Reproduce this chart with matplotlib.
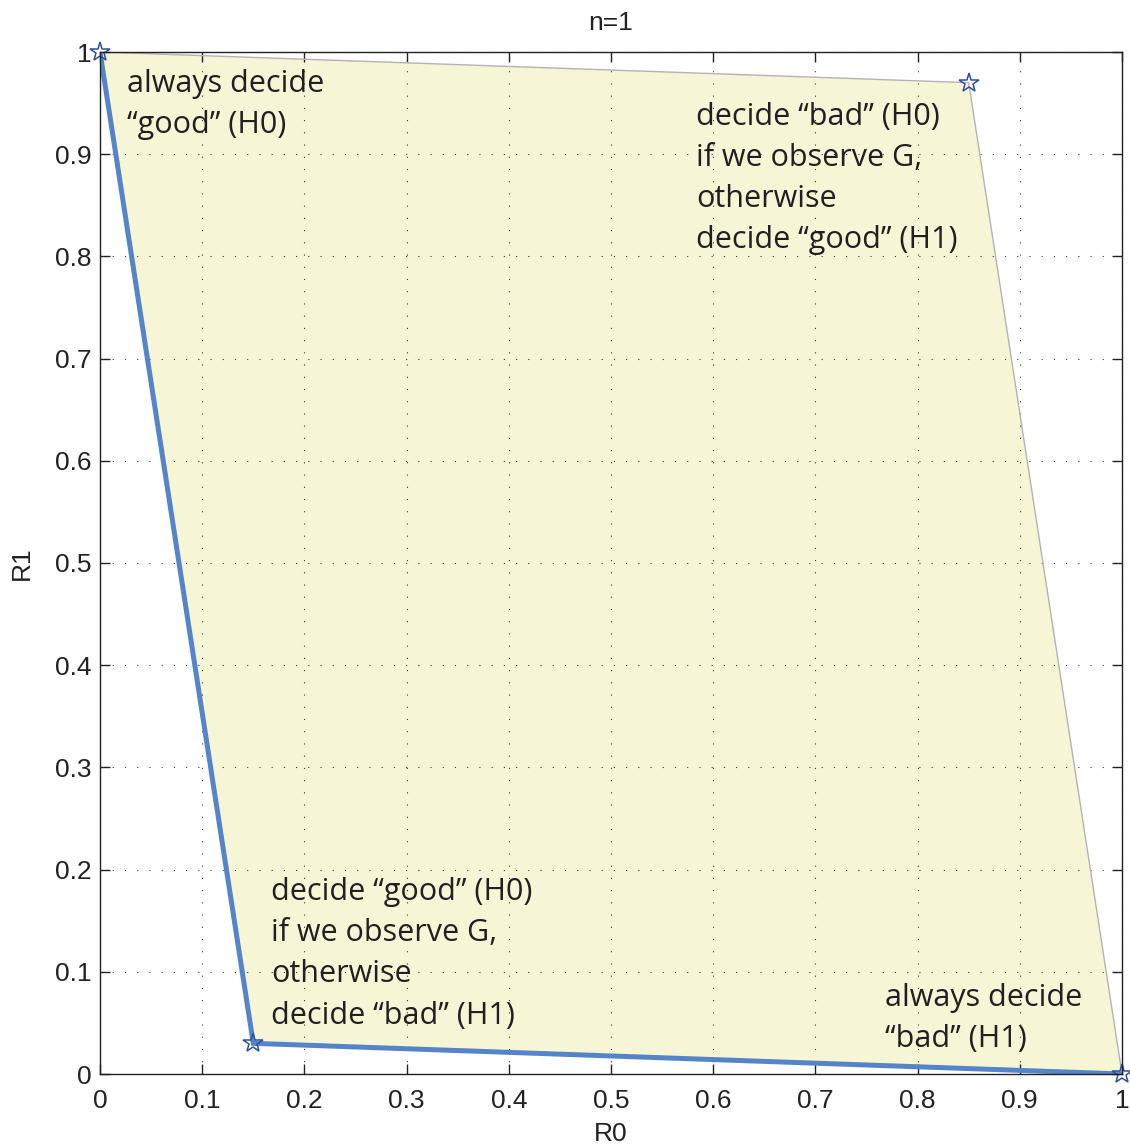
import matplotlib
matplotlib.use("Agg")
import matplotlib.pyplot as plt
from matplotlib.patches import Polygon

# Data: vertices of the achievable region (R0, R1)
r0_vertices = [0.0, 0.85, 1.0, 0.15]
r1_vertices = [1.0, 0.97, 0.0, 0.03]
# lower boundary (optimal) and upper boundary
lower_r0 = [0.0, 0.15, 1.0]
lower_r1 = [1.0, 0.03, 0.0]
upper_r0 = [0.0, 0.85, 1.0]
upper_r1 = [1.0, 0.97, 0.0]
ticks = [0, 0.1, 0.2, 0.3, 0.4, 0.5, 0.6, 0.7, 0.8, 0.9, 1]
tick_labels = ["0", "0.1", "0.2", "0.3", "0.4", "0.5", "0.6", "0.7", "0.8", "0.9", "1"]

annotation_lines = [
    ["always decide", "\u201cgood\u201d (H0)"],
    ["decide \u201cbad\u201d (H0)", "if we observe G,", "otherwise", "decide \u201cgood\u201d (H1)"],
    ["decide \u201cgood\u201d (H0)", "if we observe G,", "otherwise", "decide \u201cbad\u201d (H1)"],
    ["always decide", "\u201cbad\u201d (H1)"],
]
annotation_x = [0.0264, 0.583, 0.1673, 0.768]
annotation_first_baseline = [0.9609, 0.9286, 0.170, 0.0665]
LINE_STEP = 0.0402

fig = plt.figure(figsize=(11.3, 11.48), dpi=100)
ax = fig.add_axes([100/1130, 74/1148, 1022/1130, 1022/1148])

poly = Polygon(list(zip(r0_vertices, r1_vertices)), closed=True,
               facecolor="#f6f6d6", edgecolor="none", zorder=1)
ax.add_patch(poly)
ax.plot(upper_r0, upper_r1, color="#b3b3b3", lw=1.0, zorder=2)
ax.plot(lower_r0, lower_r1, color="#5585c8", lw=3.6, zorder=3,
        solid_joinstyle="miter")
ax.plot(r0_vertices, r1_vertices, linestyle="none", marker="*", markersize=15,
        markerfacecolor="none", markeredgecolor="#2d4fa3", markeredgewidth=1.1,
        zorder=4, clip_on=False)

ax.set_xlim(0, 1)
ax.set_ylim(0, 1)
ax.set_xticks(ticks)
ax.set_xticklabels(tick_labels)
ax.set_yticks(ticks)
ax.set_yticklabels(tick_labels)

ax.grid(True, color="#333333", linestyle=(0, (1, 10)), linewidth=0.8)
for s in ax.spines.values():
    s.set_linewidth(1.0)
    s.set_color("#222222")
    s.set_zorder(5)
ax.tick_params(direction="in", length=7, width=1.0, top=True, right=True,
               labelsize=19, colors="#222222")
ax.tick_params(axis="x", pad=11)
ax.tick_params(axis="y", pad=6)
for lbl in ax.get_xticklabels() + ax.get_yticklabels():
    lbl.set_fontfamily("Liberation Sans")

ax.set_xlabel("R0", fontsize=19, family="Liberation Sans", labelpad=6, color="#222222")
ax.set_ylabel("R1", fontsize=19, family="Liberation Sans", labelpad=15, color="#222222")
ax.set_title("n=1", fontsize=19, family="Liberation Sans", pad=16, color="#222222")

for x, y0, lines in zip(annotation_x, annotation_first_baseline, annotation_lines):
    for i, t in enumerate(lines):
        ax.text(x, y0 - i * LINE_STEP, t, fontsize=22, family="Open Sans",
                color="#231f20", ha="left", va="baseline", zorder=6)

fig.savefig("out.png", dpi=100)
